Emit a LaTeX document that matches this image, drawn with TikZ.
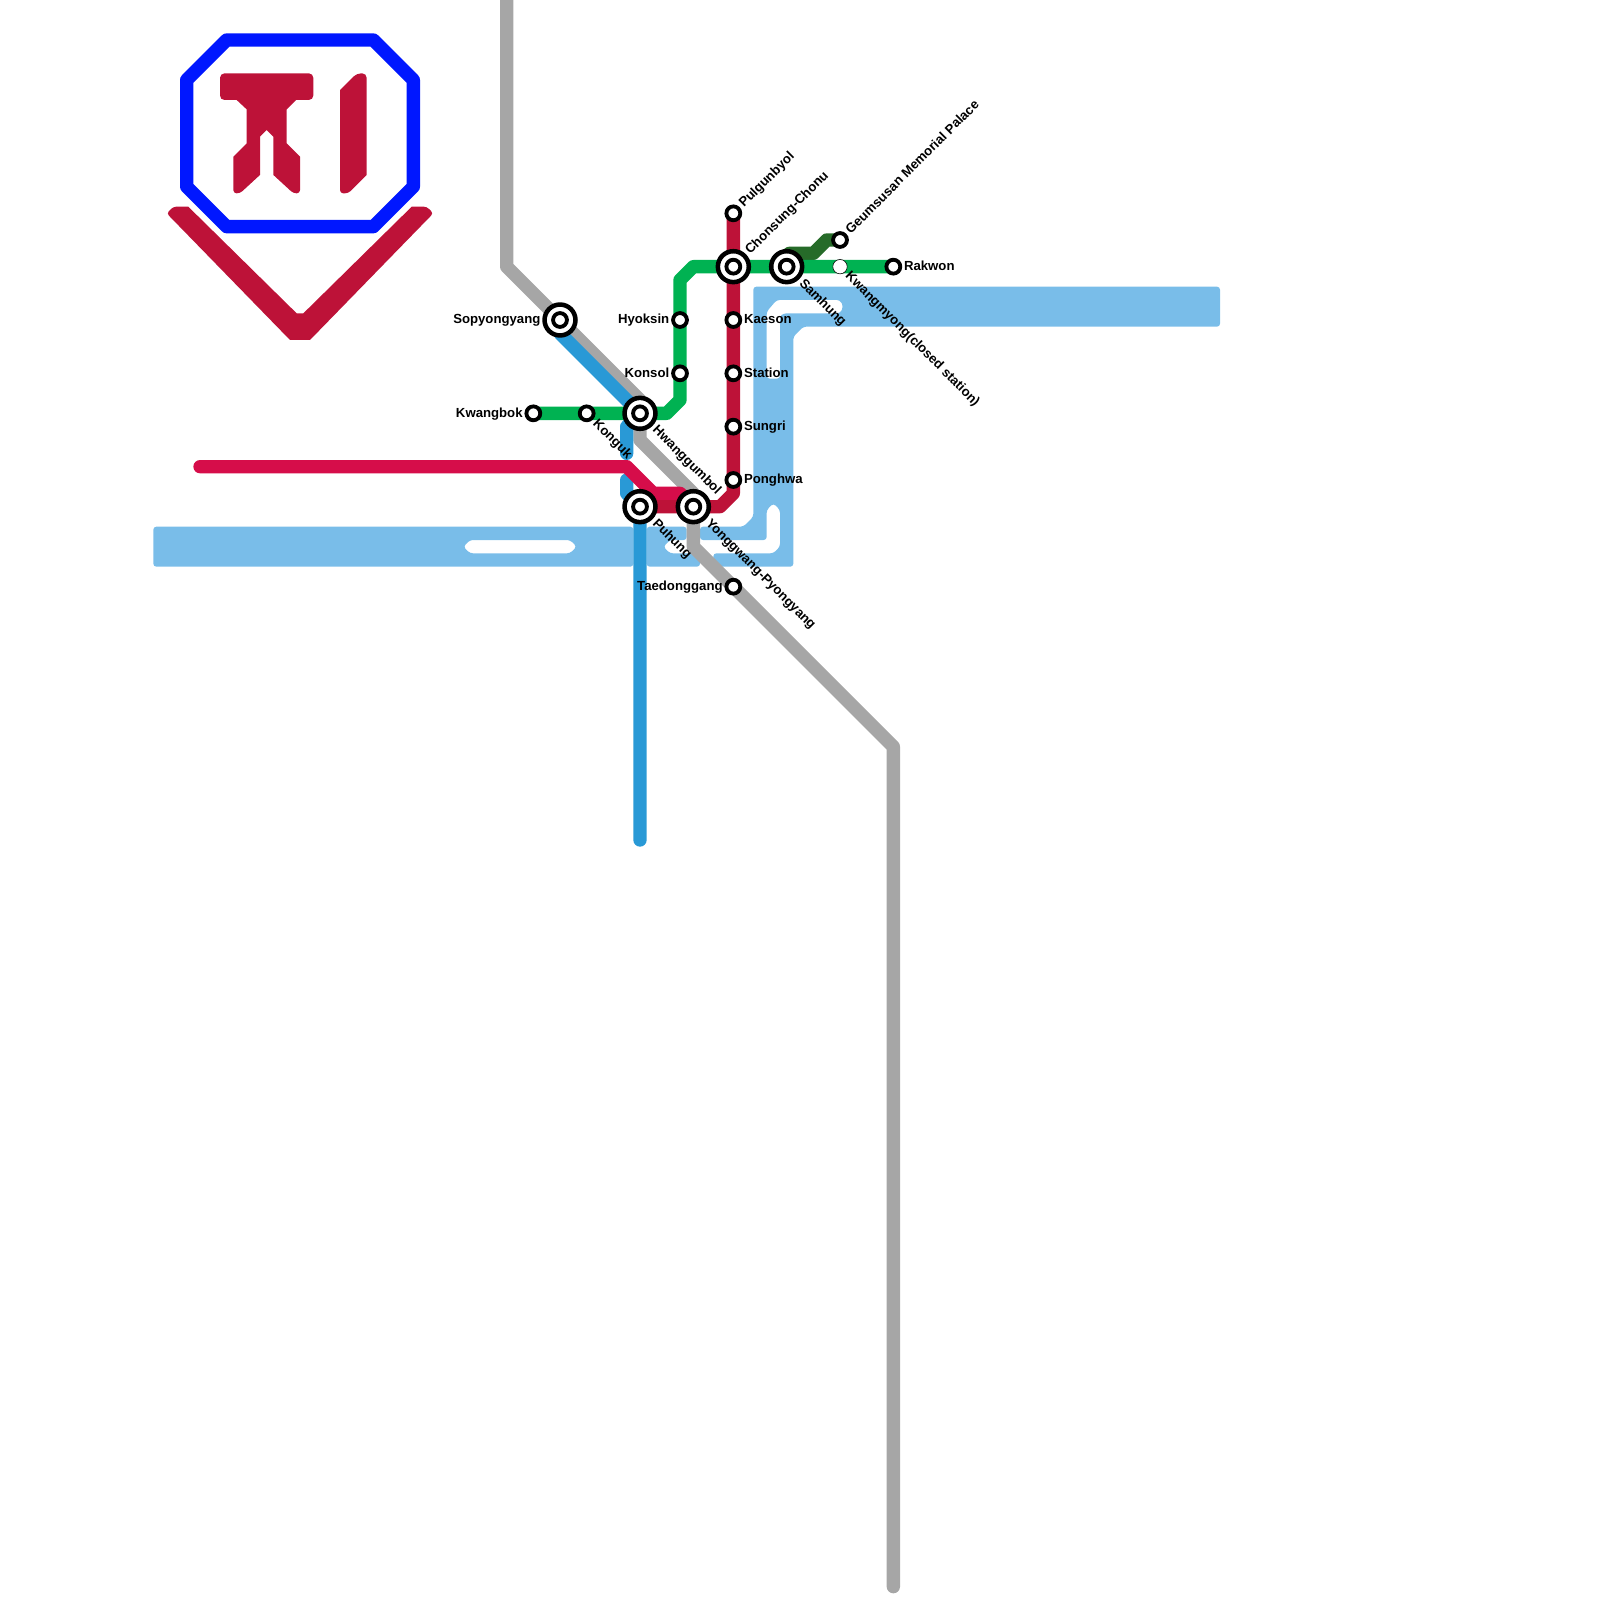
\documentclass[tikz,border=0pt]{standalone}
\usepackage{fontspec}
\setmainfont{Liberation Sans}
\definecolor{mapsky}{rgb}{0.475,0.741,0.914}
\definecolor{mapblu}{rgb}{0.16,0.60,0.84}
\definecolor{mapgrn}{rgb}{0.00,0.70,0.32}
\definecolor{mapcrm}{rgb}{0.84,0.05,0.29}
\definecolor{mapred}{rgb}{0.74,0.07,0.22}
\definecolor{mapgry}{rgb}{0.65,0.65,0.65}
\definecolor{mapdgr}{rgb}{0.15,0.42,0.16}
\definecolor{maproy}{rgb}{0.00,0.09,1.00}
\usetikzlibrary{positioning, backgrounds}
\tikzset{
stn/.style={circle, draw=black, fill=white, line width=0.072cm, minimum size=0.26cm, inner sep=0pt},
bigstn/.style={circle, draw=black, fill=white, line width=0.085cm, minimum size=0.58cm, inner sep=0pt},
closedstn/.style={circle, draw=black, fill=white, line width=0.3pt, minimum size=0.27cm, inner sep=0pt},
lbl/.style={inner sep=0pt, outer sep=1pt, text height=5.1pt, text depth=1pt, font=\fontsize{7.03}{8}\selectfont\bfseries},
lblup/.style={lbl, outer sep=1.4pt, anchor=west, rotate=45},
lbldn/.style={lbl, outer sep=1.7pt, anchor=west, rotate=-45},
track/.style={line width=0.25cm, line cap=round, line join=round},
blob/.style={rounded corners=1.6pt}
}

\begin{document}
\begin{tikzpicture}[x=0.5cm, y=-0.5cm]
\useasboundingbox (0,0) rectangle (60,60);
\node[stn] (kwangbok) at (20,15.5) {};
\node[stn] (konguk) at (22,15.5) {};
\node[stn] (hyoksin) at (25.5,12) {};
\node[stn] (konsol) at (25.5,14) {};
\node[stn] (pulgun) at (27.5,8) {};
\node[stn] (kaeson) at (27.5,12) {};
\node[stn] (station) at (27.5,14) {};
\node[stn] (sungri) at (27.5,16) {};
\node[stn] (ponghwa) at (27.5,18) {};
\node[stn] (taedong) at (27.5,22) {};
\node[stn] (geumsu) at (31.5,9) {};
\node[stn] (rakwon) at (33.5,10) {};
\node[closedstn] (kwangmy) at (31.5,10) {};
\node[bigstn] (sopyong) at (21,12) {};
\node[stn] (sopyongin) at (21,12) {};
\node[bigstn] (hwang) at (24,15.5) {};
\node[stn] (hwangin) at (24,15.5) {};
\node[bigstn] (puhung) at (24,19) {};
\node[stn] (puhungin) at (24,19) {};
\node[bigstn] (yonggw) at (26,19) {};
\node[stn] (yonggwin) at (26,19) {};
\node[bigstn] (chonsu) at (27.5,10) {};
\node[stn] (chonsuin) at (27.5,10) {};
\node[bigstn] (samhung) at (29.5,10) {};
\node[stn] (samhungin) at (29.5,10) {};
\coordinate (grytop) at (19,0);
\coordinate (grybot) at (33.5,59.5);
\coordinate (bluend) at (24,31.5);
\coordinate (stubup) at (23.5,17);
\coordinate (stubdn) at (23.5,18);
\coordinate (crmend) at (7.5,17.5);
\node[lbl, left=0pt of sopyong] (sopyonglbl) {Sopyongyang};
\node[lbl, left=0pt of kwangbok] (kwangboklbl) {Kwangbok};
\node[lbl, left=0pt of hyoksin] (hyoksinlbl) {Hyoksin};
\node[lbl, left=0pt of konsol] (konsollbl) {Konsol};
\node[lbl, left=0pt of taedong] (taedonglbl) {Taedonggang};
\node[lbl, right=0pt of kaeson] (kaesonlbl) {Kaeson};
\node[lbl, right=0pt of station] (stationlbl) {Station};
\node[lbl, right=0pt of sungri] (sungrilbl) {Sungri};
\node[lbl, right=0pt of ponghwa] (ponghwalbl) {Ponghwa};
\node[lbl, right=0pt of rakwon] (rakwonlbl) {Rakwon};
\node[lblup] (pulgunlbl) at (pulgun.45) {Pulgunbyol};
\node[lblup] (chonsulbl) at (chonsu.45) {Chonsung-Chonu};
\node[lblup] (geumsulbl) at (geumsu.45) {Geumsusan Memorial Palace};
\node[lbldn] (samhunglbl) at (samhung.-45) {Samhung};
\node[lbldn] (kwangmylbl) at (kwangmy.-45) {Kwangmyong(closed station)};
\node[lbldn] (kongukbl) at (konguk.-45) {Konguk};
\node[lbldn] (hwanglbl) at (hwang.-45) {Hwanggumbol};
\node[lbldn] (puhunglbl) at (puhung.-45) {Puhung};
\node[lbldn] (yonggwlbl) at (yonggw.-45) {Yonggwang-Pyongyang};
\begin{scope}[on background layer]
\fill[mapsky, blob, even odd rule] (5.75,19.75) -- (23.75,19.75) -- (23.75,21.25) -- (5.75,21.25) -- cycle
(17.375,20.5) -- (17.625,20.25) -- (21.375,20.25) -- (21.625,20.5) -- (21.375,20.75) -- (17.625,20.75) -- cycle;
\fill[mapsky, blob] (24.25,19.75) -- (25.75,19.75) -- (25.75,20.25) -- (25.125,20.25) -- (24.875,20.5) -- (25.125,20.75) -- (26.25,20.75) -- (26.25,21.25) -- (24.25,21.25) -- cycle;
\fill[mapsky, blob, even odd rule] (28.25,10.75) -- (45.75,10.75) -- (45.75,12.25) -- (30.125,12.25) -- (29.75,12.625) -- (29.75,21.25) -- (26.75,21.25) -- (26.75,20.75) -- (29,20.75) -- (29.25,20.5) -- (29.25,19.125) -- (29,18.875) -- (28.75,19.125) -- (28.75,20.25) -- (26.25,20.25) -- (26.25,19.75) -- (27.875,19.75) -- (28.25,19.375) -- cycle
(28.75,11.69) -- (29.125,11.25) -- (31.5,11.25) -- (31.625,11.5) -- (31.5,11.75) -- (29.375,11.75) -- (29.25,11.875) -- (29.25,14.2) -- (28.75,14.2) -- cycle;
\draw[track, mapgry] (grytop) -- (19,10) -- (24,15) -- (hwang.center) -- (24,16.5) -- (26,18.5) -- (yonggw.center) -- (26,20.5) -- (33.5,28) -- (grybot);
\draw[track, mapblu] (sopyong.center) -- (21,12.5) -- (hwang.center) -- (23.5,16) -- (stubup);
\draw[track, mapblu] (stubdn) -- (23.5,18.5) -- (puhung.center) -- (bluend);
\draw[track, mapcrm] (crmend) -- (23.5,17.5) -- (24.5,18.5) -- (25.5,18.5) -- (yonggw.center);
\draw[track, mapred] (puhung.center) -- (yonggw.center) -- (27,19) -- (27.5,18.5) -- (ponghwa.center) -- (pulgun.center);
\draw[track, mapdgr] (samhung.center) -- (29.5,9.6) -- (29.6,9.5) -- (30.5,9.5) -- (31,9) -- (geumsu.center);
\draw[track, mapgrn] (kwangbok.center) -- (konguk.center) -- (hwang.center) -- (25,15.5) -- (25.5,15) -- (konsol.center) -- (hyoksin.center) -- (25.5,10.5) -- (26,10) -- (chonsu.center) -- (samhung.center) -- (kwangmy.center) -- (rakwon.center);
\draw[track, maproy] (8.5,1.5) -- (14,1.5) -- (15.5,3) -- (15.5,7) -- (14,8.5) -- (8.5,8.5) -- (7,7) -- (7,3) -- cycle;
\fill[mapred] (10,2.75) [rounded corners=2.4pt] -- (11.75,2.75) -- (11.75,3.75) [sharp corners] -- (11.1,3.75) -- (10.75,4.1) -- (10.75,5.375) -- (11.25,5.875) [rounded corners=1.7pt] -- (11.25,7.25) -- (11,7.25) [sharp corners] -- (10.25,6.56) -- (10.25,5.125) -- (10,4.875) -- (9.75,5.125) -- (9.75,6.56) [rounded corners=1.7pt] -- (9,7.25) -- (8.75,7.25) [sharp corners] -- (8.75,5.875) -- (9.25,5.375) -- (9.25,4.1) -- (8.875,3.75) [rounded corners=2.4pt] -- (8.25,3.75) -- (8.25,2.75) [sharp corners] -- cycle;
\fill[mapred] (12.75,5) -- (12.75,3.375) [rounded corners=2.4pt] -- (13.375,2.75) -- (13.75,2.75) [sharp corners] -- (13.75,6.56) [rounded corners=1.7pt] -- (13.06,7.25) -- (12.75,7.25) [sharp corners] -- cycle;
\fill[mapred] (10.875,12.75) [rounded corners=1.6pt] -- (6.25,8) -- (6.5,7.75) [sharp corners] -- (7.06,7.75) -- (11.125,11.75) -- (11.375,11.75) -- (15.44,7.75) [rounded corners=1.6pt] -- (16,7.75) -- (16.25,8) [sharp corners] -- (11.625,12.75) -- cycle;
\end{scope}
\end{tikzpicture}
\end{document}
